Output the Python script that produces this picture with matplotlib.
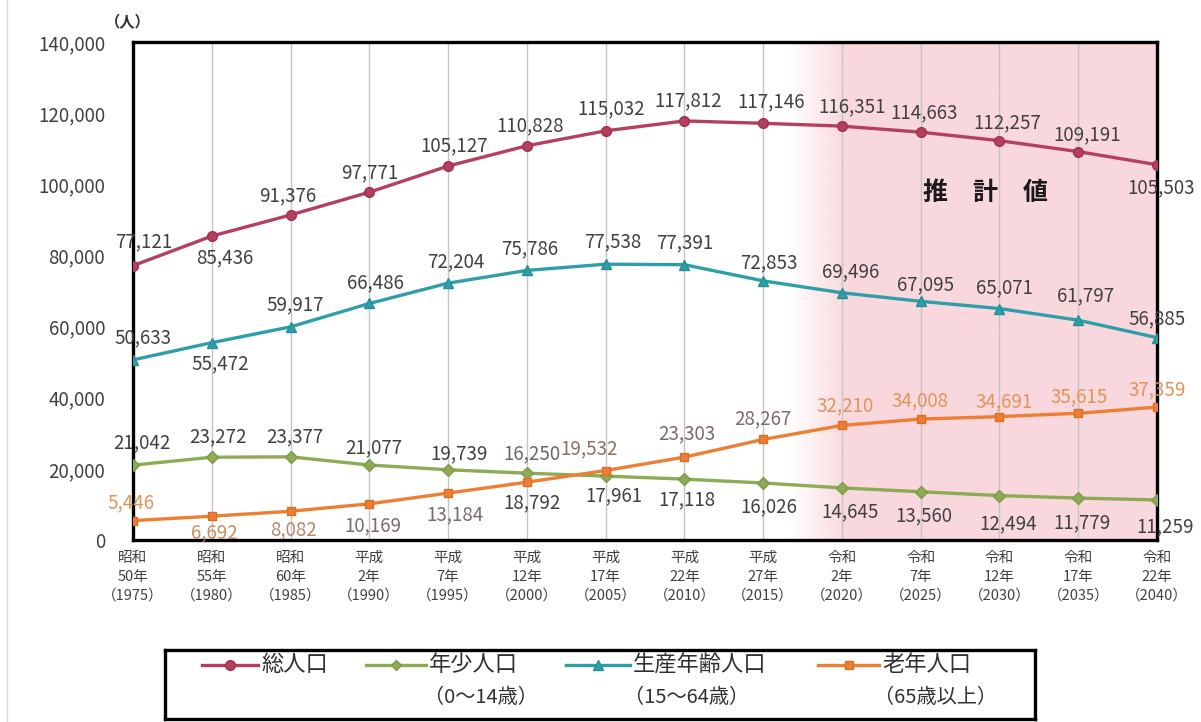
import numpy as np
import matplotlib
matplotlib.use("Agg")
import matplotlib.pyplot as plt
from matplotlib.lines import Line2D

plt.rcParams['font.family'] = ['Noto Sans CJK JP', 'DejaVu Sans']

# ---------------- data ----------------
years = [1975, 1980, 1985, 1990, 1995, 2000, 2005, 2010, 2015, 2020, 2025, 2030, 2035, 2040]
tick_labels = ['昭和\n50年\n（1975）', '昭和\n55年\n（1980）', '昭和\n60年\n（1985）',
               '平成\n2年\n（1990）', '平成\n7年\n（1995）', '平成\n12年\n（2000）',
               '平成\n17年\n（2005）', '平成\n22年\n（2010）', '平成\n27年\n（2015）',
               '令和\n2年\n（2020）', '令和\n7年\n（2025）', '令和\n12年\n（2030）',
               '令和\n17年\n（2035）', '令和\n22年\n（2040）']
total = [77121, 85436, 91376, 97771, 105127, 110828, 115032, 117812, 117146,
         116351, 114663, 112257, 109191, 105503]
young = [21042, 23272, 23377, 21077, 19739, 18792, 17961, 17118, 16026,
         14645, 13560, 12494, 11779, 11259]
working = [50633, 55472, 59917, 66486, 72204, 75786, 77538, 77391, 72853,
           69496, 67095, 65071, 61797, 56885]
elderly = [5446, 6692, 8082, 10169, 13184, 16250, 19532, 23303, 28267,
           32210, 34008, 34691, 35615, 37359]
forecast_start = 2016.7
estimate_text = '推　計　値'

# label offsets in pixels (dx, dy)
total_dx = [11, 13, -3, 0, 6, 3, 6, 4, 8, 10, 3, 8, 9, 4]
total_dy = [24, -22, 19, 19, 20, 20, 22, 20, 21, 19, 19, 18, 17, -23]
work_dx = [10, 8, 5, 6, 8, 3, 7, 0, 6, 9, 5, 5, 7, 0]
work_dy = [22, -21, 22, 21, 21, 22, 22, 22, 18, 21, 17, 21, 24, 19]
young_dx = [9, 6, 4, 4, 11, 5, 8, 3, 6, 8, 3, 9, 4, 8]
young_dy = [22, 20, 20, 17, 16, -30, -20, -21, -24, -24, -24, -28, -25, -27]
eld_dx = [-2, 3, 3, 4, 7, 5, -16, 2, 0, 3, -1, 5, 1, 0]
eld_dy = [18, -17, -19, -22, -22, 28, 22, 23, 21, 20, 18, 15, 17, 17]

c_total = '#B5405E'
c_young = '#8DAA55'
c_work = '#2E9FA8'
c_eld = '#EE7E32'
lab_dark = '#404040'
eld_lab = ['#E0945A', '#C98A62', '#B8866A', '#7A6A6A', '#7A6A6A', '#6E6464',
           '#8A7060', '#7A6A6A', '#7A6A6A', '#E0945A', '#E0945A', '#E0945A',
           '#E0945A', '#E0945A']

W, H = 1201, 722
fig = plt.figure(figsize=(W / 100, H / 100), dpi=100)
ax = fig.add_axes([133 / W, 1 - 540 / H, 1024 / W, 498 / H])
ax.set_xlim(1975, 2040)
ax.set_ylim(0, 140000)

# forecast shading (gradient)
n = 300
rgba = np.zeros((1, n, 4))
rgba[..., 0] = 249 / 255
rgba[..., 1] = 216 / 255
rgba[..., 2] = 221 / 255
ramp = np.clip(np.linspace(0, 1, n) / 0.15, 0, 1)
rgba[0, :, 3] = ramp
ax.imshow(rgba, extent=[forecast_start, 2040, 0, 140000], aspect='auto',
          zorder=0, interpolation='bilinear')

for yr in years:
    ax.axvline(yr, color='#C4C4C4', lw=1.0, zorder=1)

ax.plot(years, total, color=c_total, lw=2.4, marker='o', ms=7, mfc=c_total,
        mec='#A0304E', zorder=4)
ax.plot(years, young, color=c_young, lw=2.4, marker='D', ms=6, mfc=c_young,
        mec='#7E9A48', zorder=4)
ax.plot(years, working, color=c_work, lw=2.4, marker='^', ms=7, mfc=c_work,
        mec='#268E96', zorder=4)
ax.plot(years, elderly, color=c_eld, lw=2.4, marker='s', ms=6, mfc=c_eld,
        mec='#D86E28', zorder=4)

fs_lab = 13.5
def put_labels(vals, dxs, dys, colors):
    for i, (x, v) in enumerate(zip(years, vals)):
        col = colors[i] if isinstance(colors, list) else colors
        ax.annotate(f'{v:,}', (x, v), xytext=(dxs[i], dys[i]),
                    textcoords='offset pixels', ha='center', va='center',
                    fontsize=fs_lab, color=col, zorder=6, annotation_clip=False)

put_labels(total, total_dx, total_dy, lab_dark)
put_labels(working, work_dx, work_dy, lab_dark)
put_labels(young, young_dx, young_dy, lab_dark)
put_labels(elderly, eld_dx, eld_dy, eld_lab)

ax.text(2029.1, 97550, estimate_text, ha='center', va='center', fontsize=18,
        fontweight='bold', color='#1A1A1A', zorder=6)

# axes styling
for s in ax.spines.values():
    s.set_color('black')
    s.set_linewidth(2.4)
    s.set_zorder(3)
ax.set_xticks(years)
ax.set_xticklabels(tick_labels, fontsize=10.5, color='#404040', linespacing=1.45)
ax.set_yticks(np.arange(0, 140001, 20000))
ax.set_yticklabels([f'{int(v):,}' for v in np.arange(0, 140001, 20000)],
                   fontsize=13.5, color='#404040')
ax.tick_params(axis='both', length=0)
ax.tick_params(axis='y', pad=20)
ax.tick_params(axis='x', pad=8)

fig.text(128 / W, 1 - 22 / H, '（人）', ha='center', va='center', fontsize=11,
         fontweight='bold', color='#303030')

# left border line of image
fig.add_artist(Line2D([7 / W, 7 / W], [0, 1], color='#D8D8D8', lw=1.0,
                      transform=fig.transFigure))

# ---------------- legend ----------------
lx0, lx1, ly0, ly1 = 165, 1035, 650, 719
lax = fig.add_axes([lx0 / W, 1 - ly1 / H, (lx1 - lx0) / W, (ly1 - ly0) / H])
lax.set_xlim(lx0, lx1)
lax.set_ylim(ly1, ly0)
lax.set_xticks([])
lax.set_yticks([])
for s in lax.spines.values():
    s.set_color('black')
    s.set_linewidth(2.4)

entries = [
    (202, 258, c_total, 'o', '#A0304E', 7, '総人口', None, None),
    (366, 426, c_young, 'D', '#7E9A48', 5.5, '年少人口', '（0～14歳）', 424),
    (566, 630, c_work, '^', '#268E96', 7, '生産年齢人口', '（15～64歳）', 624),
    (818, 879, c_eld, 's', '#D86E28', 5.5, '老年人口', '（65歳以上）', 874),
]
row1 = 665
row2 = 698
for x0, x1, col, mk, mec, ms, t1, t2, x2 in entries:
    lax.plot([x0, x1], [row1, row1], color=col, lw=2.4)
    lax.plot([(x0 + x1) / 2], [row1], marker=mk, color=col, ms=ms, mec=mec)
    lax.text(x1 + 3, row1, t1, ha='left', va='center', fontsize=16,
             color='#303030')
    if t2:
        lax.text(x2, row2, t2, ha='left', va='center', fontsize=14.5,
                 color='#303030')

fig.savefig('out.png', dpi=100, facecolor='white')
